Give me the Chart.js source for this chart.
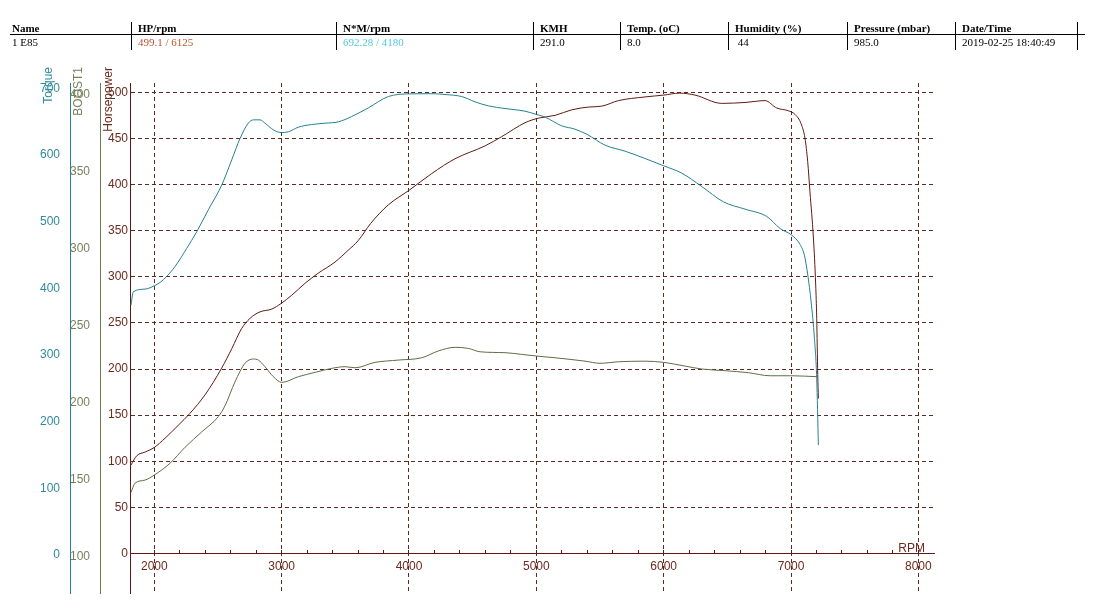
<!DOCTYPE html>
<html>
<head>
<meta charset="utf-8">
<script src="https://cdn.jsdelivr.net/npm/chart.js@4.4.0/dist/chart.umd.min.js"></script>
<style>
  html, body { margin: 0; padding: 0; background: #fff; }
  #wrap { position: absolute; left: 0; top: 0; width: 1096px; height: 612px; }
  #info { position: absolute; left: 0; top: 0; width: 1096px; height: 60px;
          font-family: "Liberation Serif", "Times New Roman", serif; font-size: 11px; color: #000; }
  .col { position: absolute; top: 22px; height: 28px; border-left: 1px solid #000; }
  .col.first { border-left: none; }
  .col.last { border-right: 1px solid #000; }
  .col .h { position: absolute; left: 6px; top: 0; line-height: 12px; font-weight: bold; white-space: nowrap; }
  .col .v { position: absolute; left: 6px; top: 14px; line-height: 12px; white-space: pre; }
  .col.first .h, .col.first .v { left: 12px; }
  #rule { position: absolute; left: 10px; top: 34px; width: 1075px; height: 1px; background: #000; }
</style>
</head>
<body>
<div id="wrap"><canvas id="dyno"></canvas></div>
<div id="info"><div id="rule"></div></div>
<script>
// header table
const infoHeads = ['Name', 'HP/rpm', 'N*M/rpm', 'KMH', 'Temp. (oC)', 'Humidity (%)', 'Pressure (mbar)', 'Date/Time'];
const infoValues = ['1 E85', '499.1 / 6125', '692.28 / 4180', '291.0', '8.0', ' 44', '985.0', '2019-02-25 18:40:49'];
const infoColors = ['#000', '#b9532e', '#4fc9dc', '#000', '#000', '#000', '#000', '#000'];

// rpm axis
const rpmLabels = [2000, 3000, 4000, 5000, 6000, 7000, 8000];
const rpmMinor = [2000, 2200, 2400, 2600, 2800, 3000, 3200, 3400, 3600, 3800, 4000, 4200, 4400, 4600, 4800,
                  5000, 5200, 5400, 5600, 5800, 6000, 6200, 6400, 6600, 6800, 7000, 7200, 7400, 7600, 7800, 8000];
const hpTicks = [0, 50, 100, 150, 200, 250, 300, 350, 400, 450, 500];
const torqueTicks = [0, 100, 200, 300, 400, 500, 600, 700];
const boostTicks = [100, 150, 200, 250, 300, 350, 400];

// Torque (N*M)
const torqueRpm = [1817, 1835, 1927, 2000, 2045, 2097, 2163, 2254, 2333, 2424, 2529, 2608, 2673, 2738, 2778, 2830,
  2869, 2935, 2995, 3052, 3131, 3236, 3341, 3445, 3550, 3681, 3838, 4003, 4180, 4283, 4414, 4519, 4623, 4754,
  4911, 5003, 5069, 5200, 5304, 5400, 5540, 5697, 5854, 6001, 6142, 6299, 6469, 6639, 6810, 6914, 7006, 7071,
  7105, 7132, 7158, 7184, 7202, 7215];
const torqueNm = [375, 395, 399, 404, 409, 418, 433, 460, 485, 518, 555, 593, 625, 648, 653, 653,
  648, 638, 634, 635, 642, 646, 648, 650, 658, 671, 688, 692, 692.28, 691, 688, 680, 674, 670,
  666, 661, 657, 644, 639, 631, 615, 606, 595, 584, 573, 553, 530, 519, 508, 490, 480, 466,
  450, 420, 380, 325, 265, 165];

// Horsepower
const hpRpm = [1817, 1862, 1927, 2000, 2084, 2188, 2280, 2398, 2529, 2608, 2686, 2752, 2830, 2922, 2995, 3079,
  3184, 3288, 3419, 3524, 3600, 3700, 3838, 4003, 4179, 4362, 4598, 4729, 4911, 5016, 5147, 5278, 5409, 5514,
  5645, 5854, 6001, 6125, 6246, 6456, 6639, 6796, 6888, 6979, 7032, 7079, 7110, 7131, 7149, 7176, 7194, 7202,
  7210, 7215];
const hpValues = [96, 106, 110, 115, 125, 139, 152, 172, 201, 222, 244, 255, 262, 265, 271, 280,
  293, 304, 316, 329, 339, 358, 378, 394, 412, 428, 442, 452, 467, 472, 475, 481, 484, 485,
  491, 495, 497, 499.1, 497, 488, 489, 491, 483, 480, 476, 466, 450, 425, 392, 342, 291, 255,
  194, 168];

// BOOST1
const boostRpm = [1817, 1848, 1927, 2000, 2123, 2241, 2372, 2503, 2555, 2634, 2712, 2778, 2817, 2869, 2935, 3001,
  3131, 3262, 3393, 3498, 3576, 3733, 3916, 4100, 4230, 4362, 4466, 4558, 4754, 4885, 5003, 5147, 5383, 5501,
  5645, 5854, 6001, 6168, 6299, 6482, 6665, 6836, 7006, 7202];
const boostValues = [141.7, 147.6, 149.7, 153, 160.6, 171, 181, 191, 198, 213.6, 225.6, 228.4, 227.7, 223.4, 216.9, 213.2,
  216.9, 219.7, 222.3, 223.4, 222.7, 226.2, 227.7, 229.2, 233.6, 236, 235.3, 233.1, 232.5, 231.4, 230.3, 229.2, 227, 225.6,
  226.6, 227, 226.2, 223.8, 221.9, 220.8, 219.5, 217.5, 217.5, 216.9];

const torqueColor = '#25808f';
const hpColor = '#5e1a12';
const boostColor = '#5d6d47';
const gridColor = '#5c2a22';

// build header
const info = document.getElementById('info');
const colLeft = [0, 131, 336, 533, 620, 728, 847, 955];
infoHeads.forEach((h, i) => {
  const col = document.createElement('div');
  col.className = 'col' + (i === 0 ? ' first' : '') + (i === infoHeads.length - 1 ? ' last' : '');
  col.style.left = colLeft[i] + 'px';
  const w = i < colLeft.length - 1 ? colLeft[i + 1] - colLeft[i] : 1076 - colLeft[i];
  col.style.width = w + 'px';
  col.innerHTML = '<span class="h"></span><span class="v"></span>';
  col.querySelector('.h').textContent = h;
  const v = col.querySelector('.v');
  v.textContent = infoValues[i];
  v.style.color = infoColors[i];
  info.appendChild(col);
});

Chart.defaults.font.family = '"Liberation Sans", Arial, sans-serif';
Chart.defaults.font.size = 12;

function pairs(xs, ys) {
  return xs.map((x, i) => ({ x: x, y: ys[i] }));
}

// axis titles sit above the chart area, drawn like the dyno software does
const axisTitles = {
  id: 'axisTitles',
  afterDraw(chart) {
    const { ctx, chartArea, scales } = chart;
    ctx.save();
    ctx.font = '12px "Liberation Sans", Arial, sans-serif';
    ['torque', 'boost', 'hp'].forEach(id => {
      const s = scales[id];
      ctx.save();
      ctx.translate(s.right - 21, chartArea.top - 16);
      ctx.rotate(-Math.PI / 2);
      ctx.textAlign = 'right';
      ctx.textBaseline = 'middle';
      ctx.fillStyle = s.options.title.color;
      ctx.fillText(s.options.title.text, 0, 0);
      ctx.restore();
    });
    const xs = scales.x;
    ctx.textAlign = 'right';
    ctx.textBaseline = 'alphabetic';
    ctx.fillStyle = xs.options.title.color;
    ctx.fillText(xs.options.title.text, chartArea.right - 9, scales.hp.getPixelForValue(0) - 2);
    ctx.restore();
  }
};

function yAxis(ticksArr, min, max, color, labelColor, title, weight) {
  return {
    type: 'linear',
    position: 'left',
    weight: weight,
    min: min,
    max: max,
    afterBuildTicks: s => { s.ticks = ticksArr.map(v => ({ value: v })); },
    afterFit: s => { s.width = 30; },
    grid: { display: false },
    border: { display: true, color: color, width: 1 },
    ticks: { color: labelColor, padding: 2, font: { size: 12 } },
    title: { display: false, text: title, color: labelColor }
  };
}

const ctx = document.getElementById('dyno').getContext('2d');
const chart = new Chart(ctx, {
  type: 'line',
  data: {
    datasets: [
      {
        label: 'BOOST1',
        data: pairs(boostRpm, boostValues),
        yAxisID: 'boost',
        borderColor: boostColor,
        borderWidth: 1,
        pointRadius: 0,
        cubicInterpolationMode: 'monotone'
      },
      {
        label: 'Torque',
        data: pairs(torqueRpm, torqueNm),
        yAxisID: 'torque',
        borderColor: torqueColor,
        borderWidth: 1,
        pointRadius: 0,
        cubicInterpolationMode: 'monotone'
      },
      {
        label: 'Horsepower',
        data: pairs(hpRpm, hpValues),
        yAxisID: 'hp',
        borderColor: hpColor,
        borderWidth: 1,
        pointRadius: 0,
        cubicInterpolationMode: 'monotone'
      }
    ]
  },
  options: {
    responsive: true,
    maintainAspectRatio: false,
    animation: false,
    layout: { padding: { left: 40, top: 83, right: 162, bottom: 19 } },
    plugins: {
      legend: { display: false },
      tooltip: { enabled: false }
    },
    scales: {
      x: {
        type: 'linear',
        position: { hp: 0 },
        min: 1809,
        max: 8123,
        afterBuildTicks: s => { s.ticks = rpmMinor.map(v => ({ value: v })); },
        grid: {
          color: c => (c.tick && rpmLabels.includes(c.tick.value)) ? gridColor : 'rgba(0,0,0,0)',
          tickColor: hpColor,
          tickLength: -4,
          tickBorderDash: [],
          lineWidth: 1
        },
        border: { display: true, color: hpColor, width: 1, dash: [4, 3] },
        ticks: {
          color: '#6b2a1e',
          padding: 10,
          maxRotation: 0,
          autoSkip: false,
          callback: v => rpmLabels.includes(v) ? String(v) : ''
        },
        title: { display: false, text: 'RPM', color: '#6b2a1e' }
      },
      torque: yAxis(torqueTicks, -57.0, 708.3, '#2a8090', '#2e8b9a', 'Torque', 3),
      boost: yAxis(boostTicks, 76.3, 407.8, '#6b7a50', '#77825c', 'BOOST1', 2),
      hp: Object.assign(yAxis(hpTicks, -42.8, 510.1, hpColor, '#6b2a1e', 'Horsepower', 1), {
        grid: { display: true, color: gridColor, drawTicks: false, lineWidth: 1 },
        border: { display: true, color: hpColor, width: 1, dash: [4, 3] }
      })
    }
  },
  plugins: [axisTitles]
});
</script>
</body>
</html>
